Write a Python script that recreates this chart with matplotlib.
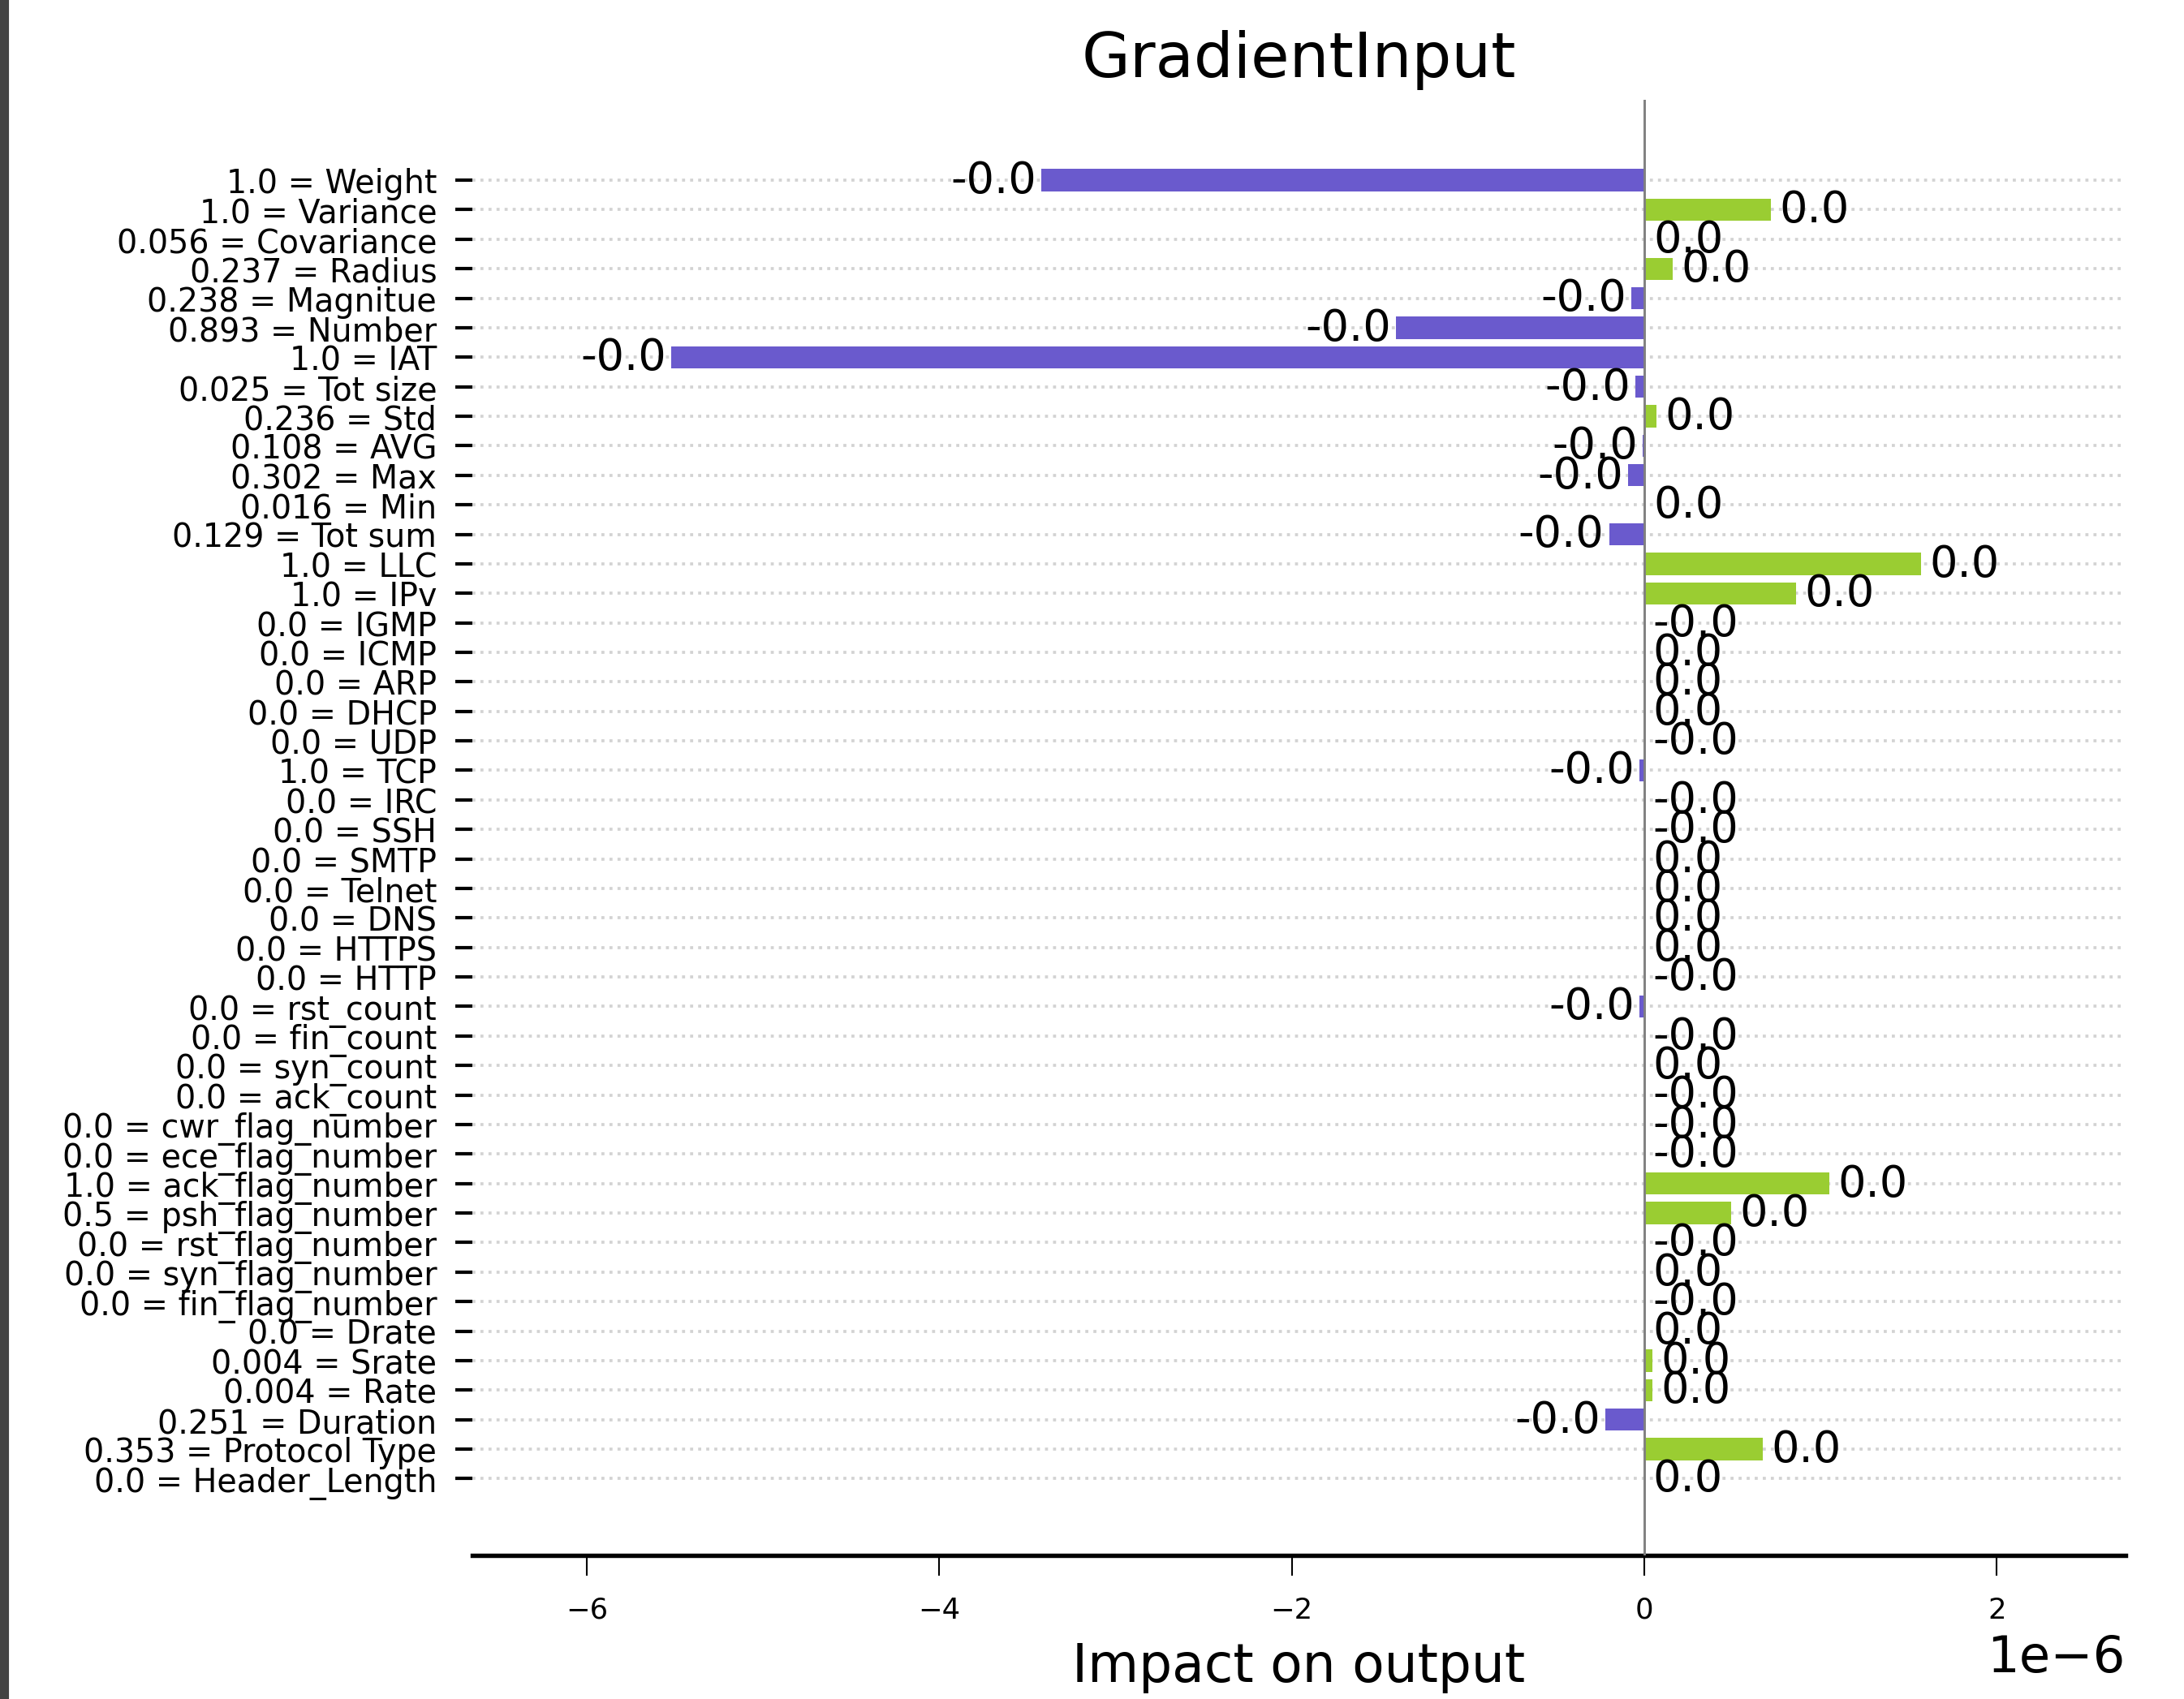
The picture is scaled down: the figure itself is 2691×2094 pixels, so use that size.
import matplotlib
matplotlib.use("Agg")
import matplotlib.pyplot as plt
from matplotlib.patches import Rectangle
import numpy as np

features = ["Weight", "Variance", "Covariance", "Radius", "Magnitue", "Number", "IAT",
            "Tot size", "Std", "AVG", "Max", "Min", "Tot sum", "LLC", "IPv", "IGMP",
            "ICMP", "ARP", "DHCP", "UDP", "TCP", "IRC", "SSH", "SMTP", "Telnet", "DNS",
            "HTTPS", "HTTP", "rst_count", "fin_count", "syn_count", "ack_count",
            "cwr_flag_number", "ece_flag_number", "ack_flag_number", "psh_flag_number",
            "rst_flag_number", "syn_flag_number", "fin_flag_number", "Drate", "Srate",
            "Rate", "Duration", "Protocol Type", "Header_Length"]

inputs = [1.0, 1.0, 0.056, 0.237, 0.238, 0.893, 1.0, 0.025, 0.236, 0.108, 0.302, 0.016,
          0.129, 1.0, 1.0, 0.0, 0.0, 0.0, 0.0, 0.0, 1.0, 0.0, 0.0, 0.0, 0.0, 0.0, 0.0,
          0.0, 0.0, 0.0, 0.0, 0.0, 0.0, 0.0, 1.0, 0.5, 0.0, 0.0, 0.0, 0.0, 0.004, 0.004,
          0.251, 0.353, 0.0]

# impact in units of 1e-6
impact_e6 = [-3.42, 0.72, 0.005, 0.16, -0.074, -1.41, -5.52, -0.05, 0.07, -0.01, -0.092,
             0.005, -0.2, 1.57, 0.86, -0.0, 0.0, 0.0, 0.0, -0.0, -0.026, -0.0, -0.0, 0.0,
             0.0, 0.0, 0.0, -0.0, -0.026, -0.0, 0.0, -0.0, -0.0, -0.0, 1.05, 0.49, -0.0,
             0.0, -0.0, 0.0, 0.047, 0.047, -0.22, 0.67, 0.0]

color_neg = "slateblue"
color_pos = "yellowgreen"

vals = np.array(impact_e6) * 1e-6
n = len(features)
y = np.arange(n)[::-1]
labels = [str(i) + " = " + f for i, f in zip(inputs, features)]
colors = [color_pos if v >= 0 else color_neg for v in vals]

fig = plt.figure(figsize=(8.973, 6.983), dpi=300)
ax = fig.add_axes([0.2162, 0.0845, 0.7567, 0.8563])

ax.barh(y, vals, height=0.75, color=colors, zorder=2)
ax.axvline(0, color="gray", lw=0.7, zorder=3)

for yy, v in zip(y, vals):
    if v >= 0:
        ax.annotate(f"{v:.1f}", (v, yy), xytext=(2.5, 0), textcoords="offset points",
                    ha="left", va="center", fontsize=13)
    else:
        ax.annotate(f"{v:.1f}", (v, yy), xytext=(-1.5, 0), textcoords="offset points",
                    ha="right", va="center", fontsize=13)

ax.set_yticks(y)
ax.set_yticklabels(labels, fontsize=9.5)
ax.tick_params(axis="y", length=5, width=1.0, pad=5.5)
ax.tick_params(axis="x", length=6, width=0.5, labelsize=8.5, pad=6)
ax.grid(True, axis="y", ls=":", color="lightgray", lw=0.9, zorder=0)

ax.set_xlim(-6.65e-6, 2.73e-6)
ax.set_ylim(-2.6, 46.72)

for s in ["top", "right", "left"]:
    ax.spines[s].set_visible(False)
ax.spines["bottom"].set_linewidth(1.3)

ax.set_title("GradientInput", fontsize=18.5, pad=7)
ax.set_xlabel("Impact on output", fontsize=15.5, labelpad=5)
ax.xaxis.get_offset_text().set_fontsize(15)

# dark strip at the left edge of the screenshot
fig.patches.append(Rectangle((0, 0), 9 / 2692, 1, transform=fig.transFigure,
                             color="#424242", zorder=10))

fig.savefig("out.png", dpi=300)
plt.close(fig)
